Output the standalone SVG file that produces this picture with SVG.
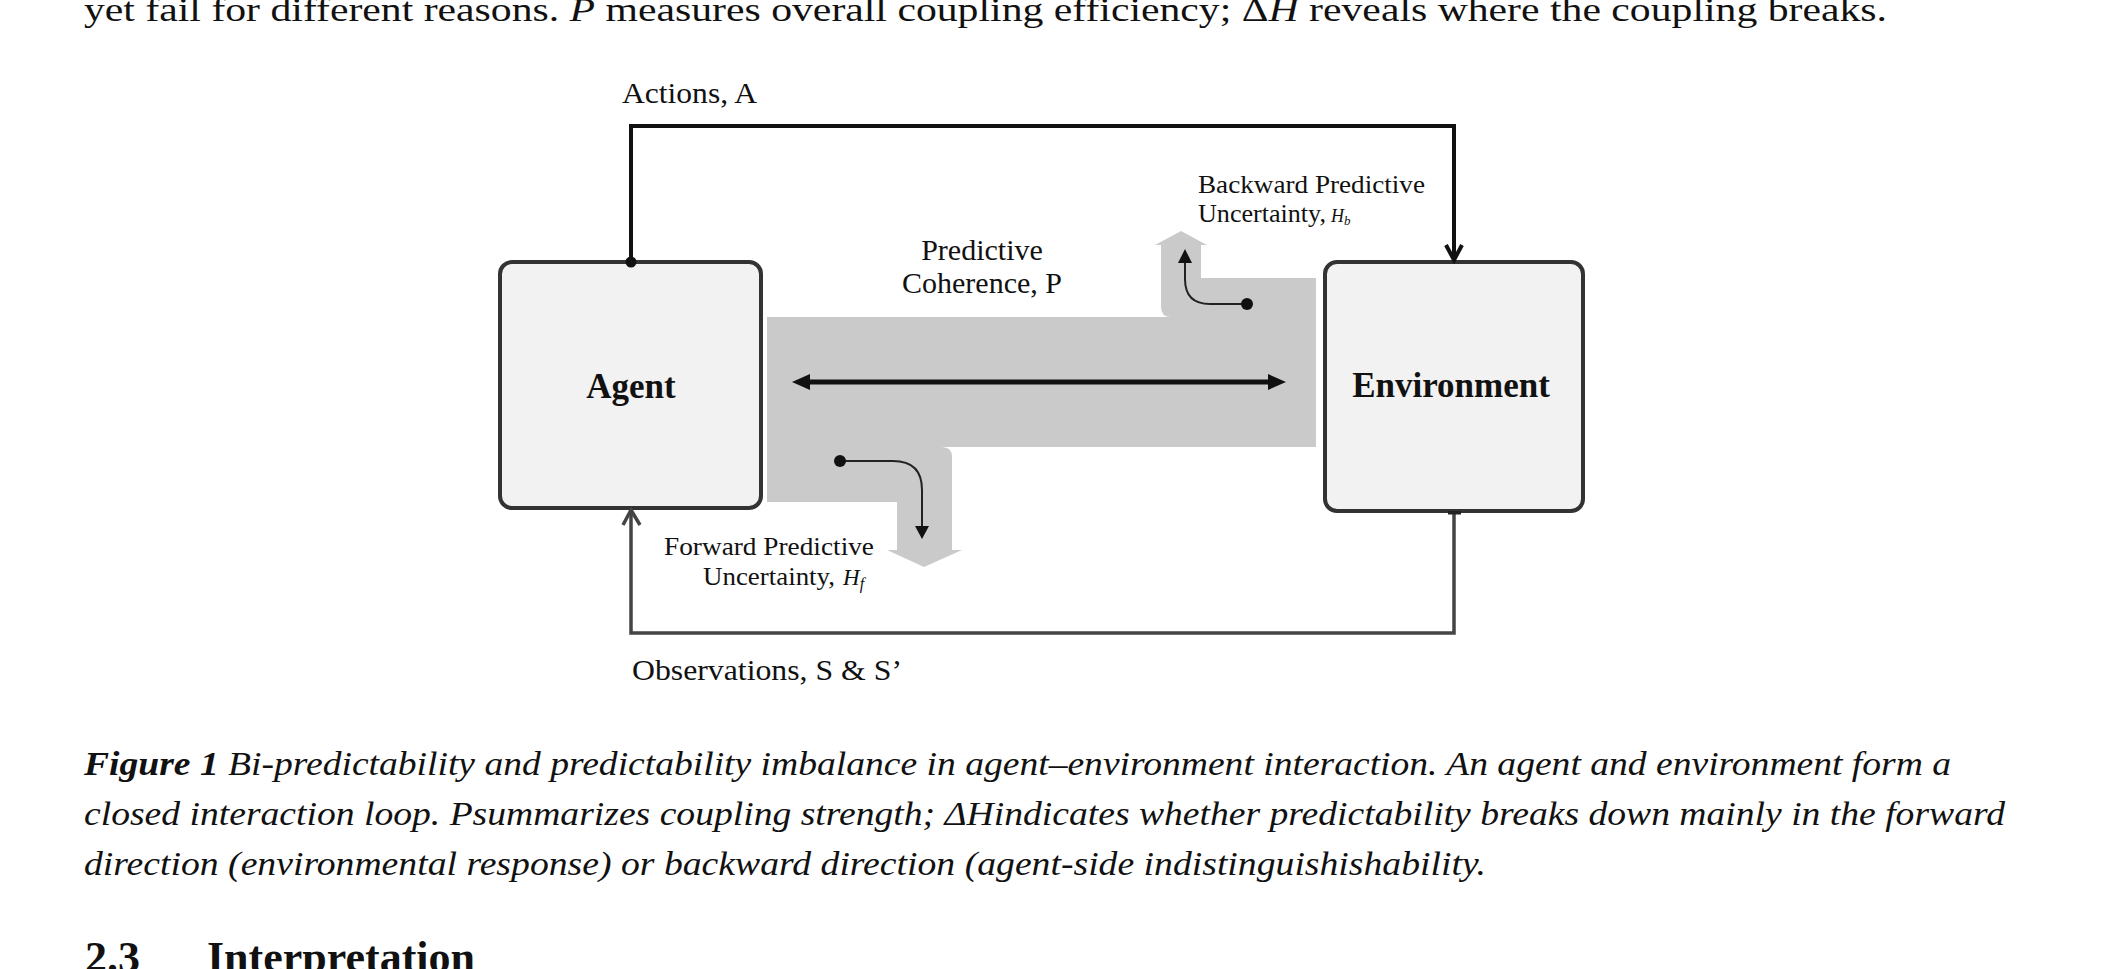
<svg xmlns="http://www.w3.org/2000/svg" width="2101" height="969" viewBox="0 0 2101 969">
<style>
  text { font-family: "Liberation Serif", "Times New Roman", serif; fill: #111; }
  .lbl { font-size: 30px; }
  .sm { font-size: 26px; }
  .node-label { font-size: 35px; font-weight: bold; text-anchor: middle; }
  .cap { font-size: 34px; font-style: italic; }
  .body { font-size: 33px; }
  .box { fill: #f2f2f2; stroke: #333; stroke-width: 4; }
  .band { fill: #cacaca; }
  .act { fill: none; stroke: #111; stroke-width: 4; }
  .obs { fill: none; stroke: #444; stroke-width: 3.5; }
  .thin { fill: none; stroke: #222; stroke-width: 2; }
  .head { fill: #111; }
</style>
<rect x="0" y="0" width="2101" height="969" fill="#ffffff"/>

<text class="body" x="84" y="21" textLength="1803" lengthAdjust="spacingAndGlyphs">yet fail for different reasons. <tspan font-style="italic">P</tspan> measures overall coupling efficiency; Δ<tspan font-style="italic">H</tspan> reveals where the coupling breaks.</text>

<g id="coherence-band">
  <rect class="band" x="767" y="317" width="549" height="130"/>
  <path class="band" d="M1171,317 Q1161,317 1161,307 L1161,245 L1155,245 L1181,231 L1207,245 L1201,245 L1201,278 L1316,278 L1316,317 Z"/>
  <path class="band" d="M767,447 L942,447 Q952,447 952,457 L952,550 L962,550 L924,567 L887,550 L897,550 L897,502 L767,502 Z"/>
</g>

<g id="agent">
  <rect class="box" x="500" y="262" width="261" height="246" rx="12"/>
  <text class="node-label" x="631" y="398">Agent</text>
</g>

<g id="environment">
  <rect class="box" x="1325" y="262" width="258" height="249" rx="12"/>
  <text class="node-label" x="1451" y="397">Environment</text>
</g>

<g id="connectors">
  <path class="act" d="M631,262 L631,126 L1454,126 L1454,259"/>
  <polyline class="act" points="1446,245 1454,260 1462,245" stroke-width="3"/>
  <circle cx="631" cy="262" r="5.5" fill="#111"/>

  <path class="obs" d="M1454,513 L1454,633 L631,633 L631,511"/>
  <polyline class="obs" points="623,525 631,510 640,525" stroke-width="3"/>
  <rect x="1448" y="511" width="13" height="3.5" fill="#222"/>

  <line x1="806" y1="382" x2="1272" y2="382" stroke="#111" stroke-width="5"/>
  <polygon class="head" points="792,382 810,374 810,390"/>
  <polygon class="head" points="1286,382 1268,374 1268,390"/>

  <path class="thin" d="M1247,304 L1210,304 Q1185,304 1185,279 L1185,261"/>
  <polygon class="head" points="1185,249 1178,263 1192,263"/>
  <circle cx="1247" cy="304" r="6" fill="#111"/>

  <path class="thin" d="M840,461 L893,461 Q922,461 922,490 L922,528"/>
  <polygon class="head" points="922,539 915,526 929,526"/>
  <circle cx="840" cy="461" r="6" fill="#111"/>
</g>

<g id="labels">
  <text class="lbl" x="622" y="103" textLength="135" lengthAdjust="spacingAndGlyphs">Actions, A</text>
  <text class="lbl" x="982" y="260" text-anchor="middle">Predictive</text>
  <text class="lbl" x="982" y="293" text-anchor="middle">Coherence, P</text>
  <text class="sm" x="1198" y="193" textLength="227" lengthAdjust="spacingAndGlyphs">Backward Predictive</text>
  <text class="sm" x="1198" y="222" textLength="128" lengthAdjust="spacingAndGlyphs">Uncertainty,</text>
  <text x="1331" y="222" font-size="18" font-style="italic">H<tspan font-size="13" dy="3">b</tspan></text>
  <text class="sm" x="874" y="555" text-anchor="end" textLength="210" lengthAdjust="spacingAndGlyphs">Forward Predictive</text>
  <text class="sm" x="835" y="585" text-anchor="end" textLength="132" lengthAdjust="spacingAndGlyphs">Uncertainty,</text>
  <text x="843" y="585" font-size="23" font-style="italic">H<tspan font-size="16" dy="4">f</tspan></text>
  <text class="lbl" x="632" y="680" textLength="270" lengthAdjust="spacingAndGlyphs">Observations, S &amp; S’</text>
</g>

<g id="caption">
  <text class="cap" x="84" y="775" textLength="1867" lengthAdjust="spacingAndGlyphs"><tspan font-weight="bold">Figure 1</tspan> Bi-predictability and predictability imbalance in agent–environment interaction. An agent and environment form a</text>
  <text class="cap" x="84" y="825" textLength="1921" lengthAdjust="spacingAndGlyphs">closed interaction loop. Psummarizes coupling strength; ΔHindicates whether predictability breaks down mainly in the forward</text>
  <text class="cap" x="84" y="875" textLength="1402" lengthAdjust="spacingAndGlyphs">direction (environmental response) or backward direction (agent-side indistinguishishability.</text>
</g>

<g id="heading">
  <text x="85" y="972" font-size="44" font-weight="bold">2.3</text>
  <text x="207" y="972" font-size="44" font-weight="bold">Interpretation</text>
</g>
</svg>
